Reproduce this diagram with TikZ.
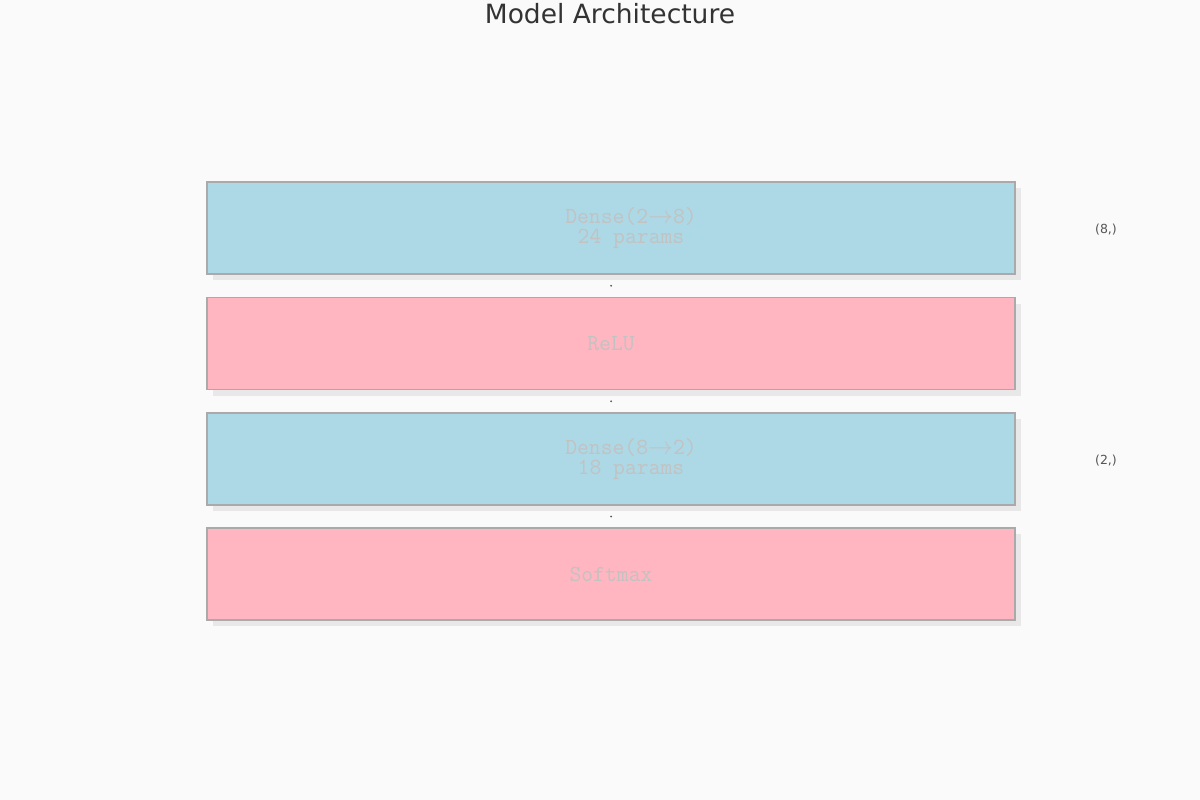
\documentclass[tikz,border=0pt]{standalone}
\usepackage{fontspec}
\setmainfont{DejaVu Sans}
\usetikzlibrary{shadows,calc}
\definecolor{bgc}{HTML}{FAFAFA}
\definecolor{densec}{HTML}{ADD8E6}
\definecolor{actc}{HTML}{FFB6C1}
\definecolor{edgec}{HTML}{AAAAAA}
\definecolor{txtc}{HTML}{C2C2C2}
\definecolor{shapec}{HTML}{555555}
\definecolor{titlec}{HTML}{333333}
\begin{document}
\begin{tikzpicture}[x=1pt,y=-1pt,
  layer/.style={draw=edgec,line width=1.4pt,minimum width=808pt,minimum height=92pt,inner sep=0pt,
    drop shadow={shadow xshift=6pt,shadow yshift=-6pt,fill=black,opacity=0.07}},
  lbl/.style={text=txtc,font=\fontsize{23}{20.5}\ttfamily,align=center},
  shp/.style={text=shapec,font=\fontsize{12.5}{15}\selectfont}]
\fill[bgc] (0,0) rectangle (1200,800);
\useasboundingbox (0,0) rectangle (1200,800);

% title
\node[text=titlec,font=\fontsize{26.5}{30}\selectfont] (title) at (610,14) {Model Architecture};

% layers
\node[layer,fill=densec,label={[lbl,xshift=20pt]center:Dense(2$\rightarrow$8)\\24 params}] (d1) at (611,228) {};
\node[layer,fill=actc,label={[lbl]center:ReLU}] (r1) at (611,343.5) {};
\node[layer,fill=densec,label={[lbl,xshift=20pt]center:Dense(8$\rightarrow$2)\\18 params}] (d2) at (611,459) {};
\node[layer,fill=actc,label={[lbl]center:Softmax}] (s1) at (611,574) {};

% links
\fill[shapec] ($(d1.south)!.5!(r1.north)$) circle (1pt);
\fill[shapec] ($(r1.south)!.5!(d2.north)$) circle (1pt);
\fill[shapec] ($(d2.south)!.5!(s1.north)$) circle (1pt);

% shapes
\node[shp] (o1) at (1106,230) {(8,)};
\node[shp] (o2) at (1106,461) {(2,)};
\end{tikzpicture}
\end{document}
